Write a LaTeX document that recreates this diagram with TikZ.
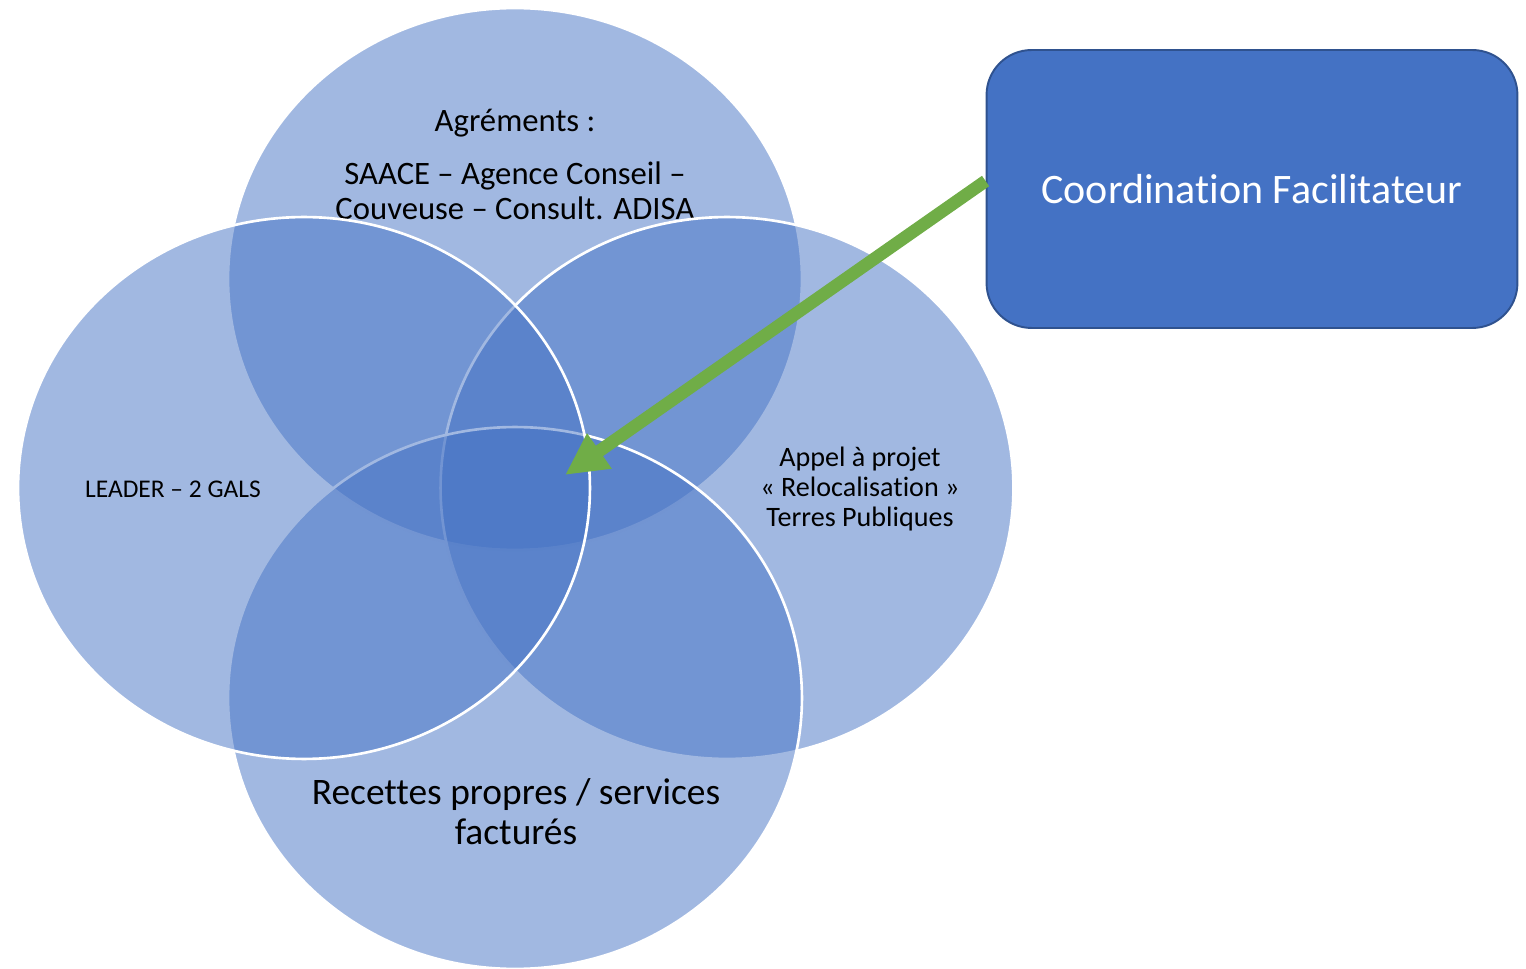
\documentclass[tikz,border=0pt]{standalone}
\usepackage{fontspec}
\setmainfont{Carlito}[Ligatures={TeX,NoCommon}]
\usetikzlibrary{arrows.meta}
\definecolor{accent}{HTML}{4472C4}
\definecolor{accentdark}{HTML}{2F528F}
\definecolor{arrowgreen}{HTML}{70AD47}
\begin{document}
\begin{tikzpicture}[x=0.02cm,y=-0.02cm,
  venn/.style={fill=accent,fill opacity=0.5,draw=white,line width=1.5pt},
  lbl/.style={text=black,align=center,inner sep=0pt},
  coordbox/.style={rectangle,rounded corners=0.9cm,fill=accent,draw=accentdark,line width=1.1pt,
    minimum width=10.62cm,minimum height=5.56cm,text=white,font=\fontsize{23.9}{28}\selectfont}]
\useasboundingbox (0,0) rectangle (1526,969);

% top
\draw [venn] (515,279) ellipse [x radius=5.74cm,y radius=5.42cm];
\node [lbl,font=\fontsize{18.6}{20}\selectfont] (agr) at (515,123) {Agréments :};
\node [lbl,font=\fontsize{18.6}{19.9}\selectfont] (saace) at (515,191) {SAACE -- Agence Conseil --\\Couveuse -- Consult. ADISA};

% right
\draw [venn] (727,488) ellipse [x radius=5.73cm,y radius=5.42cm];
\node [lbl,font=\fontsize{16}{17.1}\selectfont] (appel) at (860,489) {Appel à projet\\« Relocalisation »\\Terres Publiques};

% bottom
\draw [venn] (515,698) ellipse [x radius=5.74cm,y radius=5.42cm];
\node [lbl,font=\fontsize{21.3}{22.8}\selectfont] (recettes) at (516,812) {Recettes propres / services\\facturés};

% left
\draw [venn] (304,488) ellipse [x radius=5.72cm,y radius=5.42cm];
\node [lbl,font=\fontsize{14.5}{16}\selectfont] (leader) at (173,489) {LEADER -- 2 GALS};

\node [coordbox] (coord) at (1252,189) {Coordination Facilitateur};
\coordinate (centre) at (565,475);
\draw [arrowgreen,line width=7.2pt,-{Triangle[length=0.84cm,width=0.8cm]}] ([yshift=0.16cm]coord.west) -- (centre);
\end{tikzpicture}
\end{document}
